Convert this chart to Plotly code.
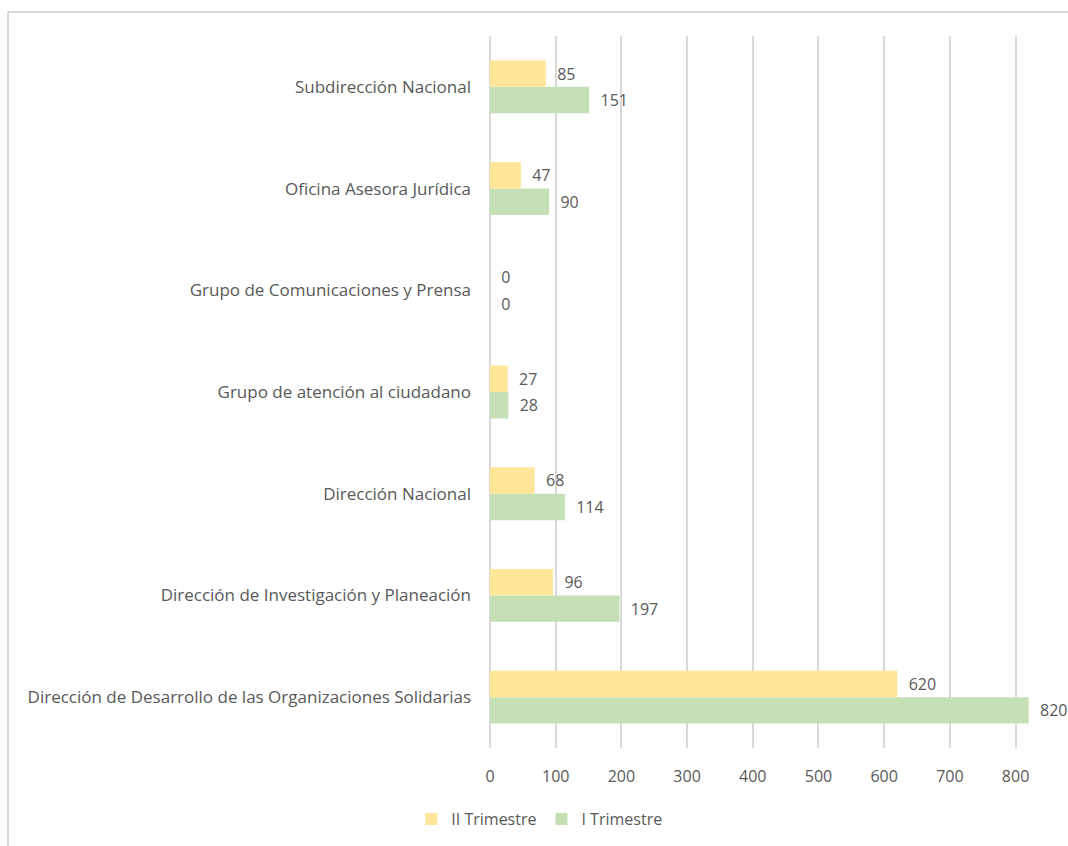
import plotly.graph_objects as go

categories = [
    "Dirección de Desarrollo de las Organizaciones Solidarias",
    "Dirección de Investigación y Planeación",
    "Dirección Nacional",
    "Grupo de atención al ciudadano",
    "Grupo de Comunicaciones y Prensa",
    "Oficina Asesora Jurídica",
    "Subdirección Nacional",
]
trim_I = [820, 197, 114, 28, 0, 90, 151]
trim_II = [620, 96, 68, 27, 0, 47, 85]
x_ticks = [0, 100, 200, 300, 400, 500, 600, 700, 800]

TXT = "#595959"
FONT = "Open Sans"
FS = 17

fig = go.Figure()
fig.add_trace(go.Bar(
    y=categories, x=trim_I, orientation="h", name="I Trimestre",
    marker=dict(color="#C5E0B4", line=dict(width=0)),
    texttemplate="  %{x}", textposition="outside", cliponaxis=False,
    textfont=dict(family=FONT, size=16, color=TXT),
))
fig.add_trace(go.Bar(
    y=categories, x=trim_II, orientation="h", name="II Trimestre",
    marker=dict(color="#FFE699", line=dict(width=0)),
    texttemplate="  %{x}", textposition="outside", cliponaxis=False,
    textfont=dict(family=FONT, size=16, color=TXT),
))

L, R, T, B = 490, 1032, 36, 748
W, H = R - L, B - T
def px(x): return (x - L) / W
def py(y): return 1 - (y - T) / H

fig.update_layout(
    width=1068, height=846,
    margin=dict(l=L, r=1068 - R, t=T, b=846 - B),
    paper_bgcolor="white", plot_bgcolor="white",
    barmode="group", bargap=0.48, bargroupgap=0,
    font=dict(family=FONT, size=FS, color=TXT),
    showlegend=True,
    legend=dict(orientation="h", traceorder="reversed",
                xref="container", yref="container",
                x=0.505, xanchor="center", y=1 - 819 / 846, yanchor="middle",
                font=dict(family=FONT, size=16, color=TXT)),
    xaxis=dict(range=[0, 825], tickvals=x_ticks, showgrid=True,
               gridcolor="#D9D9D9", gridwidth=2, zeroline=True,
               zerolinecolor="#D9D9D9", zerolinewidth=2, showline=False,
               ticks="", tickfont=dict(family=FONT, size=16, color=TXT),
               ticklabelstandoff=17, fixedrange=True),
    yaxis=dict(showgrid=False, zeroline=False, showline=False, ticks="",
               tickfont=dict(family=FONT, size=FS, color=TXT),
               ticklabelstandoff=18, fixedrange=True),
    shapes=[
        dict(type="line", xref="paper", yref="paper",
             x0=px(8), x1=px(1080), y0=py(12), y1=py(12),
             line=dict(color="#D9D9D9", width=2)),
        dict(type="line", xref="paper", yref="paper",
             x0=px(8), x1=px(8), y0=py(12), y1=py(860),
             line=dict(color="#D9D9D9", width=2)),
    ],
)

fig.write_html("out.html", config={"displayModeBar": False},
               post_script="document.body.style.margin='0';document.body.style.overflow='hidden';")
